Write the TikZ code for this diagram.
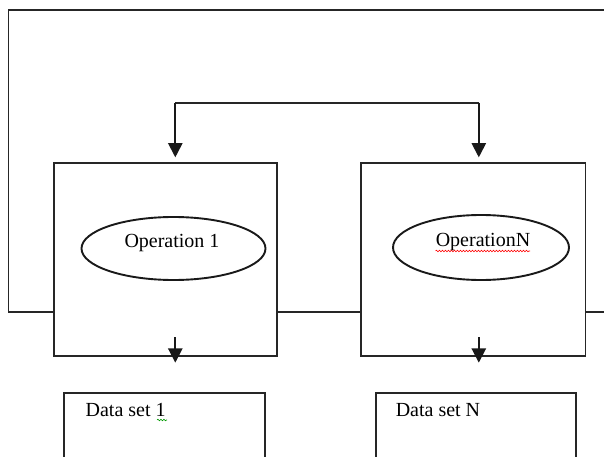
\documentclass[tikz,border=0pt]{standalone}
\usepackage{fontspec}
\setmainfont{Liberation Serif}
\usetikzlibrary{arrows.meta,shapes.geometric,decorations.pathmorphing}
\begin{document}
\begin{tikzpicture}[x=1pt,y=-1pt,line width=1.9pt,
  ln/.style={draw=black!85},
  opbox/.style={draw=black!85,rectangle,inner sep=0pt,minimum height=192.7pt},
  opell/.style={draw=black!90,ellipse,fill=white,inner sep=0pt},
  lbl/.style={anchor=base,inner sep=0pt,font=\fontsize{20}{24}\selectfont},
  dlbl/.style={anchor=base west,inner sep=0pt,font=\fontsize{20}{24}\selectfont},
  arr/.style={draw=black!90,-{Triangle[width=14.3pt,length=14.3pt]}},
  squig/.style={line width=0.6pt,decorate,decoration={snake,amplitude=0.8pt,segment length=3pt}}]
\useasboundingbox (0,0) rectangle (604,457);
\clip (0,0) rectangle (604,457);
% operation boxes
\node[opbox,minimum width=222.7pt] (box1) at (165.25,259.65) {};
\node[opbox,minimum width=224.2pt] (box2) at (473.4,259.65) {};
% ellipses
\node[opell,minimum width=184pt,minimum height=63pt] (ell1) at (173.5,248.5) {};
\node[opell,minimum width=176pt,minimum height=65pt] (ell2) at (481,247.5) {};
\node[lbl] (t1) at (172,247) {Operation 1};
\node[lbl] (t2) at (483,246.7) {OperationN};
\draw[red,squig] (435.5,251) -- (530,251);
% data set boxes
\draw[ln] (64.3,460) -- (64.3,392.7) coordinate (d1tl) -- (264.6,392.7) coordinate (d1tr) -- (264.6,460);
\draw[ln] (375.6,460) -- (375.6,392.7) coordinate (d2tl) -- (575.9,392.7) coordinate (d2tr) -- (575.9,460);
\node[dlbl] (ds1) at (84.7,416) {Data set 1};
\node[dlbl] (dsN) at (394.8,416) {Data set N};
\draw[green!60!black,squig] (157,420) -- (167,420);
% outer loop
\coordinate (L) at (8.5,311.7);
\coordinate (TL) at (8.5,10);
\coordinate (TR) at (604,10);
\coordinate (R) at (604,311.7);
\draw[ln] (box1.west |- L) -- (L) -- (TL) -- (TR);
\draw[ln] (box1.east |- L) -- (box2.west |- L);
\draw[ln] (box2.east |- L) -- (R);
% top distribution connector
\coordinate (cl) at (175.3,102.7);
\coordinate (cr) at (478.8,102.7);
\draw[ln] (cl) -- (cr);
\draw[arr,shorten >=5pt] (cl) -- (cl |- box1.north);
\draw[arr,shorten >=5pt] (cr) -- (cr |- box2.north);
% bottom output arrows
\coordinate (b1) at (175.3,337.3);
\coordinate (b2) at (478.8,337.3);
\draw[arr,shorten >=-5.7pt] (b1) -- (b1 |- box1.south);
\draw[arr,shorten >=-5.7pt] (b2) -- (b2 |- box2.south);
\end{tikzpicture}
\end{document}
